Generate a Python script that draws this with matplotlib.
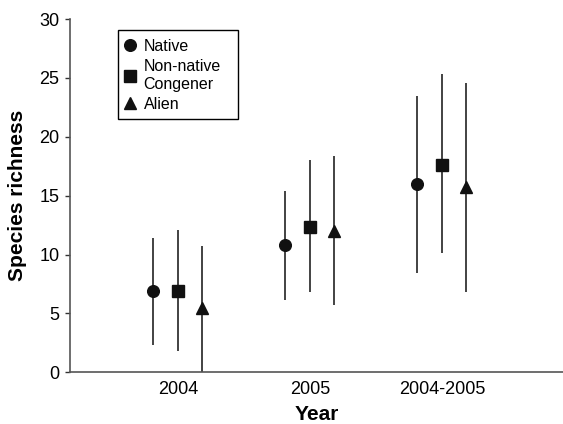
import matplotlib
matplotlib.use("Agg")
import matplotlib.pyplot as plt
from matplotlib.lines import Line2D
from matplotlib.patches import Rectangle
import numpy as np

plt.rcParams['font.family'] = ['Liberation Sans', 'DejaVu Sans']

years = ["2004", "2005", "2004-2005"]
series = ["Native", "Non-native\nCongener", "Alien"]
means = {
    "Native": [6.9, 10.8, 16.0],
    "Non-native\nCongener": [6.9, 12.3, 17.6],
    "Alien": [5.5, 12.0, 15.7],
}
lower = {
    "Native": [2.3, 6.1, 8.4],
    "Non-native\nCongener": [1.8, 6.8, 10.1],
    "Alien": [0.0, 5.7, 6.8],
}
upper = {
    "Native": [11.4, 15.4, 23.5],
    "Non-native\nCongener": [12.1, 18.0, 25.3],
    "Alien": [10.7, 18.4, 24.6],
}
markers = {"Native": "o", "Non-native\nCongener": "s", "Alien": "^"}
msizes = {"Native": 8.4, "Non-native\nCongener": 8.8, "Alien": 8.6}
offsets = {"Native": -0.19, "Non-native\nCongener": 0.0, "Alien": 0.185}

fig = plt.figure(figsize=(5.63, 4.24), dpi=100)
ax = fig.add_axes([0.1243, 0.122, 0.8757, 0.833])

x = np.arange(1, len(years) + 1)
for s in series:
    m = np.array(means[s])
    lo = m - np.array(lower[s])
    hi = np.array(upper[s]) - m
    ax.errorbar(x + offsets[s], m, yerr=[lo, hi], fmt=markers[s],
                color='#111111', ecolor='#222222', elinewidth=1.2,
                capsize=0, markersize=msizes[s], label=s)

ax.set_xlim(0.182, 3.917)
ax.set_ylim(0, 30)
ax.set_yticks([0, 5, 10, 15, 20, 25, 30])
ax.set_xticks(x)
ax.set_xticklabels(years)
ax.tick_params(axis='x', length=0, labelsize=13, pad=6)
ax.tick_params(axis='y', length=3.5, width=1, labelsize=13, pad=4, color='#333333')
for sp in ['top', 'right']:
    ax.spines[sp].set_visible(False)
for sp in ['left', 'bottom']:
    ax.spines[sp].set_color('#555555')
    ax.spines[sp].set_linewidth(1.2)

ax.set_xlabel("Year", fontsize=15, fontweight='bold', labelpad=5)
ax.set_ylabel("Species richness", fontsize=15, fontweight='bold', labelpad=9)

hs = [Line2D([], [], marker=markers[s], color='#111111', linestyle='none',
             markersize=msizes[s]) for s in series]
leg = ax.legend(hs, series, loc='upper left', bbox_to_anchor=(0.091, 0.969),
                frameon=False, fontsize=11.5, handlelength=0.8,
                handletextpad=0.45, borderpad=0.55, labelspacing=0.34,
                borderaxespad=0)
for t in leg.get_texts():
    t.set_linespacing(1.2)
ax.add_patch(Rectangle((0.097, 0.716), 0.244, 0.253, transform=ax.transAxes,
                       fill=False, edgecolor='black', linewidth=1.0,
                       clip_on=False, zorder=5))

fig.savefig("out.png", dpi=100)
